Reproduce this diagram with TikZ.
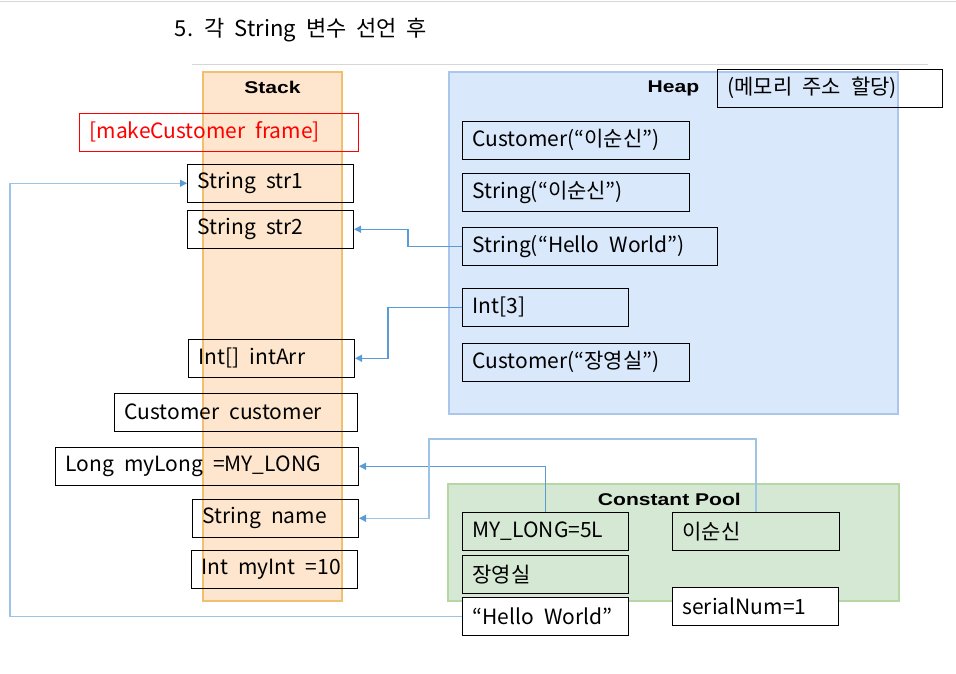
\documentclass[tikz,border=0pt]{standalone}
\usepackage{fontspec}
\setmainfont{Noto Sans CJK KR}
\newfontfamily\tagfamily{Liberation Sans}
\usetikzlibrary{arrows.meta}

\definecolor{stackfill}{RGB}{253,230,205}
\definecolor{stackline}{RGB}{240,192,112}
\definecolor{heapfill}{RGB}{218,232,252}
\definecolor{heapline}{RGB}{170,198,236}
\definecolor{poolfill}{RGB}{213,232,212}
\definecolor{poolline}{RGB}{182,214,164}
\definecolor{refdark}{RGB}{91,155,213}
\definecolor{reflight}{RGB}{157,195,230}
\definecolor{rulegray}{RGB}{215,215,215}

\tikzset{
  area/.style={anchor=north west, line width=1.8pt, inner sep=0pt},
  areatag/.style={font=\tagfamily\bfseries\fontsize{17}{17}\selectfont, inner sep=0pt},
  cell/.style={draw, anchor=north west, line width=1pt, minimum height=37.5pt,
    inner xsep=10pt, inner ysep=0pt, text width=#1pt, align=flush left,
    font={\fontsize{21}{24}\selectfont\spaceskip=0.48em\relax},
    execute at begin node={\spaceskip=0.48em\relax}},
  ref/.style={-{Triangle[length=7pt,width=7pt,color=refdark]}, line width=1.2pt, draw=refdark},
  reflite/.style={ref, draw=reflight},
}

\begin{document}
\begin{tikzpicture}[x=1pt,y=-1pt]
\useasboundingbox (0,0) rectangle (956,673);
%Rules
\draw[rulegray, line width=1.5pt] (0,1.5) -- (956,1.5);
\draw[rulegray, line width=1.5pt] (192,64.5) -- (928,64.5);

%Title
\node[font={\fontsize{22}{26}\selectfont\spaceskip=0.45em\relax}] at (301,30) (title) {5. 각 String 변수 선언 후};

%Areas
\node[area, fill=stackfill, draw=stackline, minimum width=139, minimum height=529] at (202,71) (stack) {};
\node[area, fill=heapfill, draw=heapline, minimum width=449, minimum height=342] at (448,71) (heap) {};
\node[area, fill=poolfill, draw=poolline, minimum width=451, minimum height=117] at (447,483) (pool) {};
\node[areatag] at ([yshift=-16pt]stack.north) (stacktag) {\scalebox{1.24}[1]{Stack}};
\node[areatag] at ([yshift=-17pt]heap.north) (heaptag) {\scalebox{1.24}[1]{Heap}};
\node[areatag] at ([xshift=-4pt,yshift=-16pt]pool.north) (pooltag) {\scalebox{1.24}[1]{Constant Pool}};

%Stack
\node[cell=259, draw=red, text=red] at (79,113) (frame) {[makeCustomer frame]};
\node[cell=146] at (187,164) (str1) {String str1};
\node[cell=146] at (187,210) (str2) {String str2};
\node[cell=146] at (188,339) (intarr) {Int[] intArr};
\node[cell=223] at (114,393) (cust) {Customer customer};
\node[cell=283] at (55,447) (mylong) {Long myLong =MY\_LONG};
\node[cell=146] at (192,499) (name) {String name};
\node[cell=146] at (191,550) (myint) {Int myInt =10};

%Heap
\node[cell=205] at (717,69) (addr) {(메모리 주소 할당)};
\node[cell=207] at (462,121) (hcust1) {Customer(“이순신”)};
\node[cell=207] at (462,173) (hstr1) {String(“이순신”)};
\node[cell=235] at (462,227) (hhello) {String(“Hello World”)};
\node[cell=146] at (462,288) (hint3) {Int[3]};
\node[cell=207] at (462,343) (hcust2) {Customer(“장영실”)};

%Constant pool
\node[cell=146] at (462,512) (pmylong) {MY\_LONG=5L};
\node[cell=146] at (462,555) (pjang) {장영실};
\node[cell=146, fill=white] at (462,597) (phello) {“Hello World”};
\node[cell=147] at (672,512) (plee) {이순신};
\node[cell=146, fill=white] at (672,587) (pserial) {serialNum=1};

%References
\coordinate (lane1) at (10,616);
\coordinate (lane2) at (408,230);
\coordinate (lane3) at (388,307);
\coordinate (lane5) at (429,439);
\draw[reflite] (phello.west) -- (phello.west -| lane1) |- (str1.west);
\draw[ref] (hhello.west) -- (hhello.west -| lane2) |- (str2.east);
\draw[ref] (hint3.west) -- (hint3.west -| lane3) |- (intarr.east);
\draw[ref] (pmylong.north) |- (mylong.east);
\draw[reflite] (plee.north) |- (lane5) |- (name.east);
\end{tikzpicture}
\end{document}
